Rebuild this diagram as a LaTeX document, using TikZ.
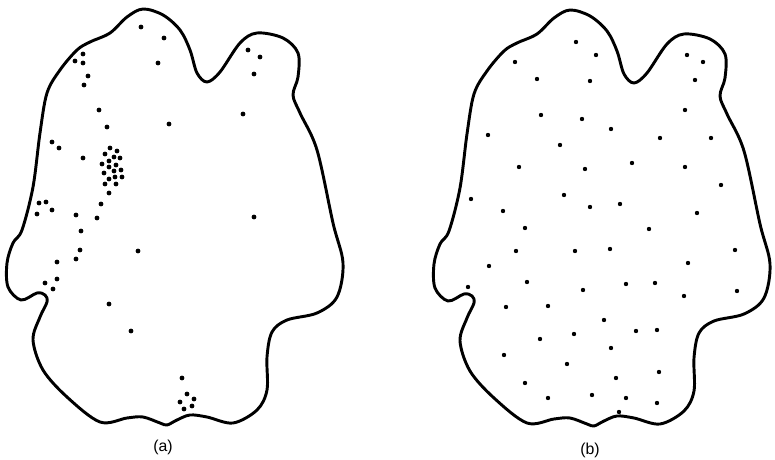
\documentclass[tikz,border=0pt]{standalone}
\usepackage{fontspec}
\setmainfont{Liberation Sans}
\tikzset{
  blob/.style={line width=2.5pt, line join=round},
  dot/.style={fill=black}
}
\begin{document}
\begin{tikzpicture}[x=0.03cm, y=-0.03cm]
  \useasboundingbox (0,0) rectangle (775,460);
  % outlines, same shape twice
  \foreach \dx/\dy in {0/0, 427/1}
    \draw[blob, shift={(\dx,\dy)}] plot[smooth cycle, tension=0.55] coordinates {
      (143,9) (163,15) (180,30) (190,50) (197,73) (207,82) (220,72) (240,43)
      (257,33) (283,38) (298,53) (298,77) (293,95) (300,113) (317,150) (333,223)
      (343,263) (337,297) (317,313) (287,320) (272,332) (267,357) (267,390)
      (257,410) (233,423) (207,417) (190,415) (177,420) (167,425) (160,423)
      (143,417) (127,418) (100,422) (67,397) (43,370) (33,340) (40,317)
      (47,302) (45,295) (37,293) (21,300) (8,287) (7,263) (13,243) (22,230)
      (33,187) (40,133) (47,93) (60,70) (77,50) (90,42) (110,33) (127,17)};
  % (a) clustered points
  \foreach \x/\y in {141/27, 164/38, 158/63, 248/50, 260/57, 254/74, 83/54,
      75/61, 83/63, 88/76, 84/85, 99/110, 107/127, 169/124, 243/114, 52/142,
      59/148, 83/158, 110/148, 117/151, 105/154, 114/157, 120/158, 109/161,
      102/164, 116/165, 109/167, 121/170, 114/171, 104/173, 122/177, 115/177,
      109/179, 105/184, 116/184, 109/193, 101/204, 46/202, 39/203, 52/210,
      37/214, 76/215, 97/218, 254/217, 81/231, 80/250, 76/259, 138/251,
      57/262, 57/279, 45/283, 53/289, 109/304, 131/331, 182/378, 187/394,
      194/399, 180/402, 192/406, 184/409}
    \fill[dot] (\x,\y) circle[radius=2.4];
  % (b) evenly spread points
  \foreach \x/\y in {576/42, 596/55, 515/62, 537/79, 590/81, 687/55, 703/62,
      695/80, 685/110, 541/115, 582/119, 611/129, 488/135, 560/145, 660/138,
      711/138, 519/167, 585/169, 632/163, 685/167, 721/185, 471/199, 564/195,
      503/211, 590/207, 620/204, 697/213, 525/228, 649/229, 516/251, 575/251,
      610/249, 735/250, 489/266, 688/263, 527/282, 583/290, 626/284, 655/283,
      684/296, 737/291, 468/287, 506/307, 548/306, 604/320, 636/331, 657/330,
      540/339, 574/334, 611/348, 504/355, 567/364, 659/372, 616/378, 525/383,
      548/398, 592/395, 626/398, 657/403, 619/412}
    \fill[dot] (\x,\y) circle[radius=2.2];
  % captions
  \node[font=\fontsize{13.5}{16}\selectfont] (capA) at (163,447) {(a)};
  \node[font=\fontsize{13.5}{16}\selectfont] (capB) at (590,450) {(b)};
\end{tikzpicture}
\end{document}
